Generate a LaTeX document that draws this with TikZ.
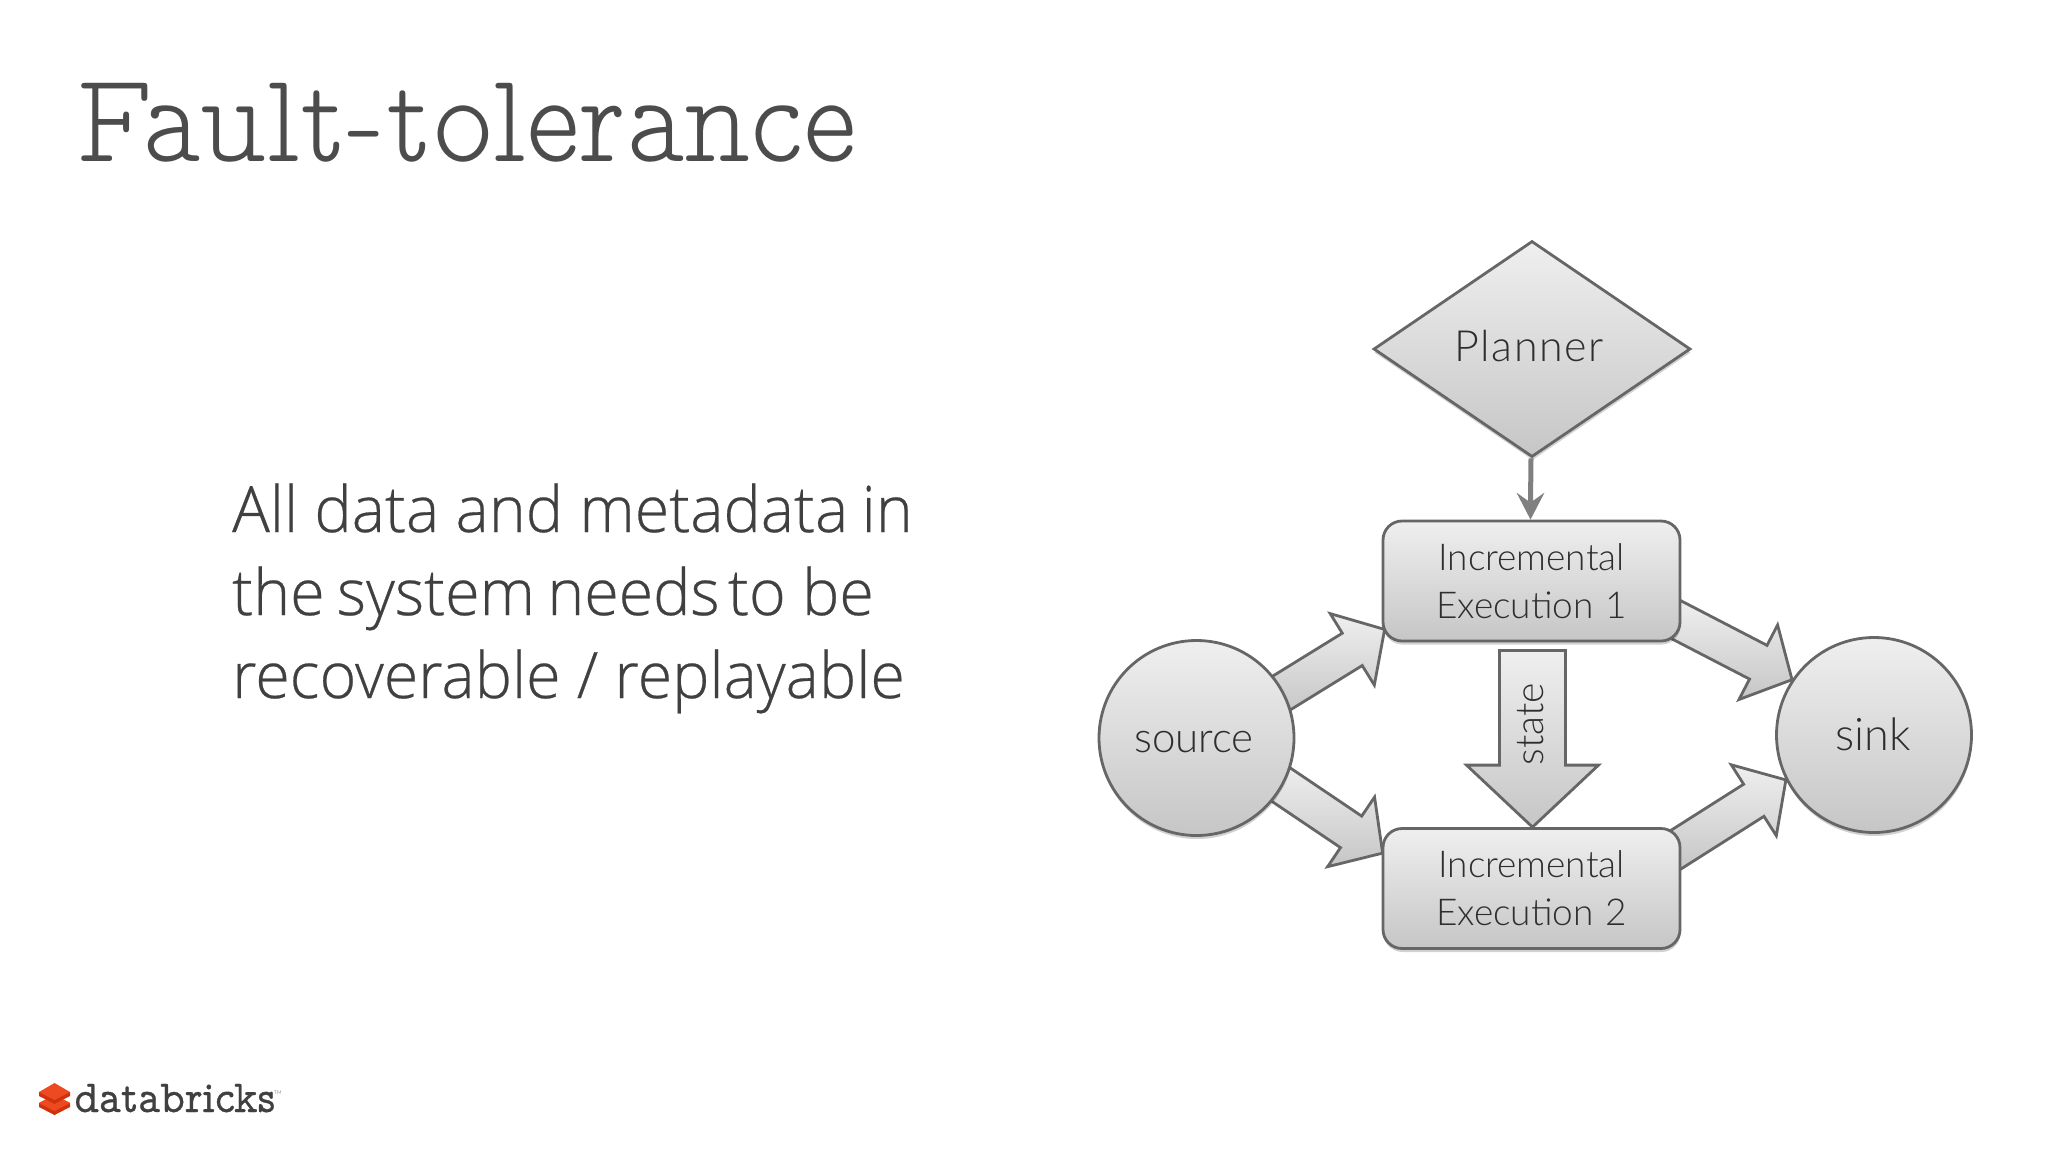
\documentclass[tikz,border=0pt]{standalone}
\usepackage{fontspec}
\usetikzlibrary{calc,shapes.geometric,shadows,backgrounds}
\setmainfont{Lato Light}
\newfontfamily\bodyfont[FakeStretch=0.98,FakeBold=0.4]{Open Sans Light}
\newfontfamily\titlefont[FakeStretch=0.89]{Latin Modern Mono Prop Light}
\newfontfamily\logofont[FakeStretch=0.93,FakeBold=0.6]{Latin Modern Mono Prop}
\newfontfamily\plannerfont[LetterSpace=3.5]{Lato Light}
\definecolor{edgegray}{HTML}{666666}
\definecolor{inkgray}{HTML}{404040}
\definecolor{titlegray}{HTML}{4C4C4C}
\definecolor{nodeink}{HTML}{2E2E2E}
\definecolor{toptone}{HTML}{EFEFEF}
\definecolor{lowtone}{HTML}{C6C6C6}
\definecolor{pointgray}{HTML}{808080}
\definecolor{logored}{HTML}{EE4A22}
\definecolor{logodark}{HTML}{D0320F}
\tikzset{
  x=1pt,y=-1pt,
  flow/.style={draw=edgegray,line width=2.8pt,top color=toptone,bottom color=lowtone,text=nodeink,
    drop shadow={shadow xshift=0.5pt,shadow yshift=-3.5pt,opacity=.18,fill=black}},
  boxnode/.style={flow,rounded corners=19pt,minimum width=297pt,minimum height=120pt,inner sep=0pt,align=center,
    font=\fontsize{37}{48}\selectfont},
  roundnode/.style={flow,circle,minimum size=195pt,inner sep=0pt,font=\fontsize{42}{50}\selectfont},
  blockstyle/.style={draw=edgegray,line width=2.8pt,line join=miter,top color=toptone,bottom color=lowtone},
  pagetext/.style={anchor=base west,inner sep=0pt,text=inkgray},
  nodelabel/.style={text=nodeink,inner sep=0pt},
}
\newcommand{\blockarrow}[6]{%
  \coordinate (T) at ($(#1)!-#6!(#2)$);
  \coordinate (N) at ($(#2)!#5!(#1)$);
  \draw[blockstyle] ($(T)!#3!90:(#2)$) -- ($(N)!#3!90:(#2)$) -- ($(N)!#4!90:(#2)$) -- (#2)
    -- ($(N)!#4!-90:(#2)$) -- ($(N)!#3!-90:(#2)$) -- ($(T)!#3!-90:(#2)$) -- cycle;
}
\begin{document}
\begin{tikzpicture}
\useasboundingbox (0,0) rectangle (2048,1152);
% title and body
\node[pagetext,text=titlegray,font=\titlefont\fontsize{128}{128}\selectfont] (title) at (76,161) {Fault-tolerance};
\node[pagetext,font=\bodyfont\fontsize{64}{83}\selectfont] (l1) at (232,532) {All data and metadata\kern-3pt\ in};
\node[pagetext,font=\bodyfont\fontsize{64}{83}\selectfont] (l2) at (232,615) {the\kern-4pt\ system\kern-4pt\ needs\kern-8pt\ to be};
\node[pagetext,font=\bodyfont\fontsize{64}{83}\selectfont] (l3) at (232,698) {recoverable\ /\ replayable};
% nodes
\node[flow,diamond,aspect=1.47,minimum width=317pt,minimum height=216pt,inner sep=0pt] (planner) at (1532,349) {};
\node[nodelabel,font=\plannerfont\fontsize{43}{50}\selectfont] (plannertext) at (1529,346) {Planner};
\node[boxnode] (e1) at (1531.5,581) {Incremental\\Execution\hspace{0.32em}1};
\node[boxnode] (e2) at (1531.5,888.5) {Incremental\\Execution\hspace{0.32em}2};
\node[roundnode] (source) at (1196.5,738) {};
\node[nodelabel,font=\fontsize{42}{50}\selectfont] (sourcetext) at (1194,742) {source};
\node[roundnode] (sink) at (1874,735) {};
\node[nodelabel,font=\fontsize{45}{50}\selectfont] (sinktext) at (1873,734) {sink};
% connectors
\begin{scope}[on background layer]
  \coordinate (a1tip) at ($(e1.south west)+(3,-13)$);
  \coordinate (a2tip) at ($(e2.north west)+(1,26)$);
  \coordinate (a3tail) at ($(e1.south east)+(0,-20)$);
  \coordinate (a4tail) at ($(e2.north east)+(-3,21)$);
  \blockarrow{source.28}{a1tip}{19pt}{42pt}{38pt}{12pt}
  \blockarrow{source.-29}{a2tip}{19pt}{42pt}{38pt}{12pt}
  \blockarrow{a3tail}{sink.146}{19pt}{42pt}{38pt}{12pt}
  \blockarrow{a4tail}{sink.207}{19pt}{42pt}{38pt}{12pt}
\end{scope}
\coordinate (s1) at ($(e1.south)+(1,8)$);
\coordinate (s2) at ($(e2.north)+(1,0)$);
\blockarrow{s1}{s2}{33pt}{66pt}{62pt}{0pt}
\node[nodelabel,rotate=90,font=\fontsize{39}{40}\selectfont] (statetext) at (1531,724) {state};
% planner to execution
\coordinate (p1) at ($(planner.south)+(-1,0)$);
\coordinate (p2) at ($(e1.north)+(-1,0)$);
\coordinate (pn) at ($(p2)+(0,-17)$);
\draw[pointgray,line width=5pt] (p1) -- (pn);
\fill[pointgray] (p2) -- ($(p2)+(-14,-27)$) -- (pn) -- ($(p2)+(14,-27)$) -- cycle;
% logo
\fill[logodark] (39,1103) -- (54.5,1095) -- (70,1103) -- (70,1107) -- (54.5,1115) -- (39,1107) -- cycle;
\fill[logored] (39,1103) -- (54.5,1095) -- (70,1103) -- (54.5,1111) -- cycle;
\fill[logodark] (39,1092) -- (70,1092) -- (70,1096) -- (54.5,1104) -- (39,1096) -- cycle;
\fill[logored] (39,1092) -- (54.5,1083) -- (70,1092) -- (54.5,1100) -- cycle;
\node[pagetext,font=\logofont\fontsize{46}{46}\selectfont] (logo) at (74,1112) {databricks};
\node[pagetext,font=\fontsize{5}{5}\selectfont] (tm) at (274,1094) {TM};
\end{tikzpicture}
\end{document}
